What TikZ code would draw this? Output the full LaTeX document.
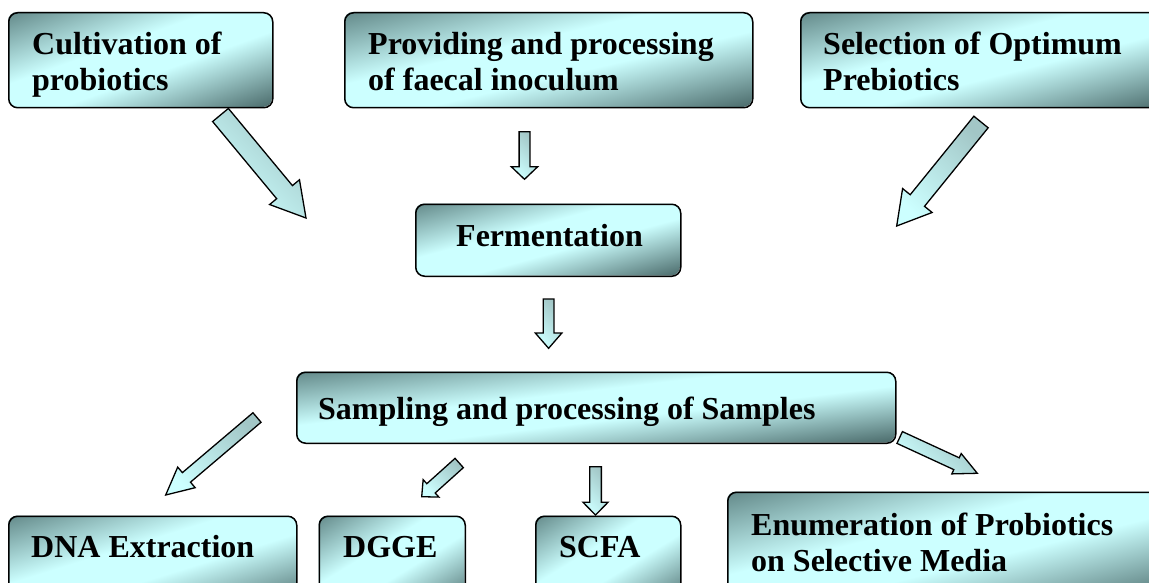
\documentclass[tikz,border=0pt]{standalone}
\usepackage{fontspec}
\setmainfont{Liberation Serif}
\usetikzlibrary{calc}
\definecolor{boxlight}{HTML}{CCFFFF}
\definecolor{boxdarkA}{HTML}{638989}
\definecolor{boxdarkB}{HTML}{4A6A6A}
\definecolor{arrowdark}{HTML}{A2C6C6}
\pgfdeclarehorizontalshading{boxshade}{100bp}{color(0bp)=(boxdarkA); color(25bp)=(boxdarkA); color(44bp)=(boxlight); color(55bp)=(boxlight); color(75bp)=(boxdarkB); color(100bp)=(boxdarkB)}
\tikzset{
  flowbox/.style={draw=black, line width=1.5pt, rounded corners=9pt,
    inner sep=0pt, anchor=north west},
  boxtext/.style={font=\fontsize{32}{36}\selectfont\bfseries, align=left,
    inner sep=0pt, anchor=base west},
  blockarrow/.style={draw=black, line width=1.3pt, line join=miter,
    top color=arrowdark, bottom color=boxlight, shading angle=-45},
}
% #1 name, #2 x, #3 y (top left), #4 width, #5 height
\newcommand\flowboxdraw[5]{%
  \begin{scope}
    \clip[rounded corners=9pt] (#2,#3) rectangle ++(#4,#5);
    \begin{scope}[transform canvas={shift={(#2+0.5*#4,#3+0.5*#5)}, xscale=#4, yscale=#5, rotate=-45}]
      \shade[shading=boxshade] (-0.7072pt,-0.7072pt) rectangle (0.7072pt,0.7072pt);
    \end{scope}
  \end{scope}
  \node[flowbox, minimum width=#4pt, minimum height=#5pt] (#1) at (#2,#3) {};}
\newcommand\blockarrow[5]{%
  \coordinate (ba-h) at ($(#2)!#5!(#1)$);
  \path[blockarrow] ($(#1)!#3!90:(#2)$) -- ($(ba-h)!#3!90:(#2)$)
    -- ($(ba-h)!#4!90:(#2)$) -- (#2) -- ($(ba-h)!#4!-90:(#2)$)
    -- ($(ba-h)!#3!-90:(#2)$) -- ($(#1)!#3!-90:(#2)$) -- cycle;}
\begin{document}
\begin{tikzpicture}[x=1pt, y=-1pt]
\useasboundingbox (0,0) rectangle (1149,583);
\clip (0,0) rectangle (1149,583);
% boxes
\flowboxdraw{cult}{8}{12}{264}{95}
\flowboxdraw{prov}{344}{12}{408}{95}
\flowboxdraw{sel}{800}{12}{370}{95}
\flowboxdraw{ferm}{415}{203.5}{265}{72}
\flowboxdraw{samp}{296}{371.5}{599}{71}
\flowboxdraw{dna}{8}{515.5}{288}{90}
\flowboxdraw{dgge}{318.5}{515.5}{146}{90}
\flowboxdraw{scfa}{535}{515.5}{145}{90}
\flowboxdraw{enum}{727}{491.5}{440}{110}
% texts
\begin{scope}
\clip (8,12) rectangle (272,101);
\node[boxtext] (cult-t) at (32,91) {Cultivation of\\probiotics};
\end{scope}
\node[boxtext] (prov-t) at (368,91) {Providing and processing\\of faecal inoculum};
\node[boxtext] (sel-t) at (823,91) {Selection of Optimum\\Prebiotics};
\node[boxtext] (ferm-t) at (456,246) {Fermentation};
\node[boxtext] (samp-t) at (318,419) {Sampling and processing of Samples};
\node[boxtext] (dna-t) at (31,557) {DNA Extraction};
\node[boxtext] (dgge-t) at (343,557) {DGGE};
\node[boxtext] (scfa-t) at (559,557) {SCFA};
\node[boxtext] (enum-t) at (751,571) {Enumeration of Probiotics\\on Selective Media};
% arrow end points
\coordinate (a1s) at (220.5,115);   \coordinate (a1e) at (306,218);
\coordinate (a2s) at (524.5,131.7); \coordinate (a2e) at (524.5,179.3);
\coordinate (a3s) at (548.6,299);   \coordinate (a3e) at (548.6,348.3);
\coordinate (a4s) at (981,122);     \coordinate (a4e) at (896.7,226);
\coordinate (a5s) at (257,417.5);   \coordinate (a5e) at (165.7,495);
\coordinate (a6s) at (459.2,463);   \coordinate (a6e) at (421.7,496.7);
\coordinate (a7s) at (595.5,466.7); \coordinate (a7e) at (595.5,515);
\coordinate (a8s) at (899.7,437.5); \coordinate (a8e) at (977.3,473.3);
% arrows
\blockarrow{a1s}{a1e}{10.25pt}{19.4pt}{33.6pt}
\blockarrow{a2s}{a2e}{5.4pt}{13.2pt}{12.6pt}
\blockarrow{a3s}{a3e}{5.35pt}{13.3pt}{15.3pt}
\blockarrow{a4s}{a4e}{9.2pt}{19pt}{32.8pt}
\blockarrow{a5s}{a5e}{6.25pt}{13.5pt}{27.2pt}
\blockarrow{a6s}{a6e}{6.25pt}{11.75pt}{12.5pt}
\blockarrow{a7s}{a7e}{5.85pt}{12.5pt}{12.7pt}
\blockarrow{a8s}{a8e}{6.5pt}{11.2pt}{22.9pt}
\end{tikzpicture}
\end{document}
